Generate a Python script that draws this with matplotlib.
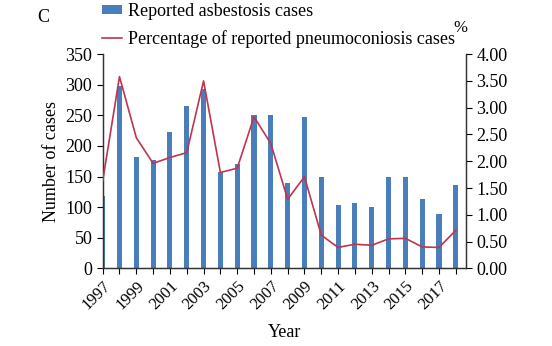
import matplotlib.pyplot as plt
import matplotlib.transforms as mtransforms
import numpy as np

years = list(range(1997, 2019))
cases = [119, 298, 182, 177, 223, 265, 293, 158, 171, 250, 251, 140,
         247, 150, 103, 107, 100, 149, 149, 114, 89, 136]
pct = [1.63, 3.58, 2.44, 1.96, 2.07, 2.16, 3.50, 1.79, 1.87, 2.83, 2.33, 1.29,
       1.71, 0.62, 0.39, 0.45, 0.43, 0.55, 0.56, 0.40, 0.39, 0.71]
year_labels = [str(y) if y % 2 == 1 else '' for y in years]

plt.rcParams['font.family'] = ['Liberation Serif', 'DejaVu Serif']
plt.rcParams['font.size'] = 13

fig = plt.figure(figsize=(5.52, 3.46), dpi=100)
ax1 = fig.add_axes([0.186, 0.2245, 0.658, 0.619])
ax2 = ax1.twinx()

x = np.arange(len(years))
bars = ax1.bar(x, cases, width=0.3, color='#4a7ebb', zorder=2)
line, = ax2.plot(x, pct, color='#c0344c', lw=1.2, zorder=3)

ax1.set_xlim(0, 21.6)
ax1.set_ylim(0, 350)
ax1.set_yticks(np.arange(0, 351, 50))
ax2.set_ylim(0, 4)
ax2.set_yticks(np.arange(0, 4.01, 0.5))
ax2.set_yticklabels(['%.2f' % v for v in np.arange(0, 4.01, 0.5)])

ax1.set_xticks(x)
ax1.set_xticklabels(year_labels, rotation=45, ha='right', rotation_mode='anchor',
                    fontsize=12)
# nudge rotated year labels a little to the right, like the original
shift = mtransforms.ScaledTranslation(4 / 100, 0, fig.dpi_scale_trans)
for lab in ax1.get_xticklabels():
    lab.set_transform(lab.get_transform() + shift)
ax1.tick_params(axis='x', length=4, pad=3)
ax1.tick_params(axis='y', length=4)
ax2.tick_params(axis='y', length=4)

for a in (ax1, ax2):
    a.spines['top'].set_visible(False)
    for s in ('left', 'right', 'bottom'):
        a.spines[s].set_color('#333333')
        a.spines[s].set_linewidth(0.9)

ax1.set_ylabel('Number of cases', labelpad=4)
ax1.set_xlabel('Year', labelpad=8)

fig.text(0.068, 0.948, 'C', fontsize=13, va='center')
fig.text(0.821, 0.918, '%', fontsize=12, va='center')

fig.legend([bars, line],
           ['Reported asbestosis cases', 'Percentage of reported pneumoconiosis cases'],
           loc='upper left', bbox_to_anchor=(0.172, 1.012), frameon=False,
           handlelength=1.1, handleheight=0.4, handletextpad=0.35,
           labelspacing=0.55, borderaxespad=0)

fig.savefig('out.png', dpi=100)
